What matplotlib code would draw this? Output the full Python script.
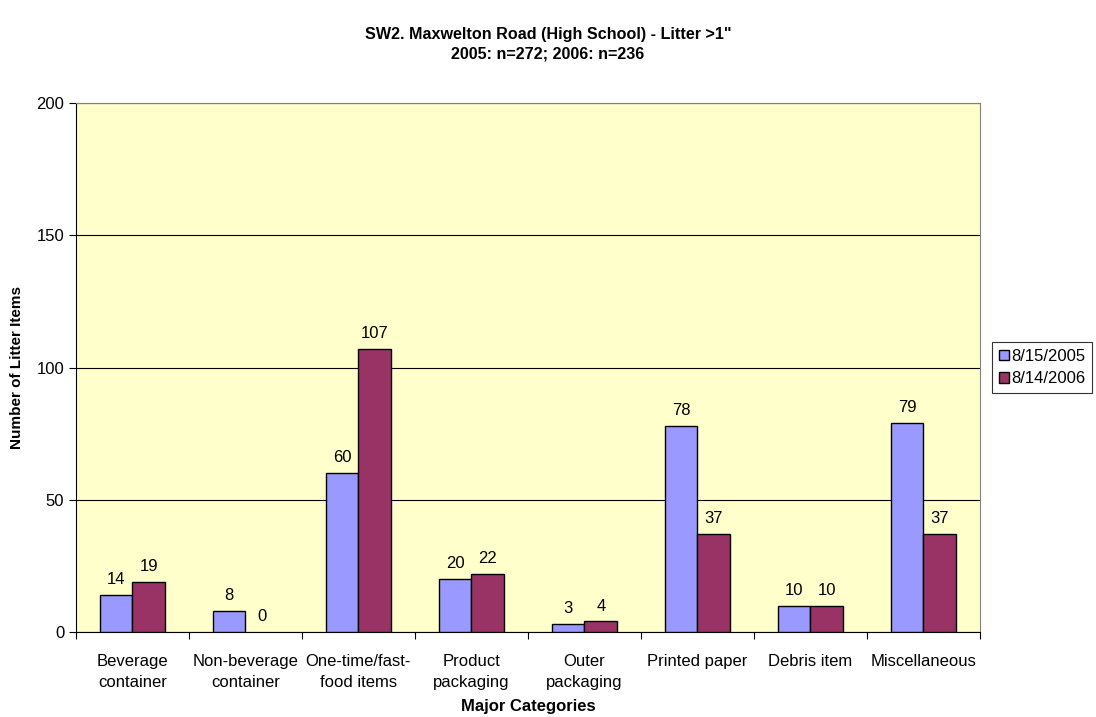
import numpy as np
import matplotlib.pyplot as plt

plt.rcParams['font.family'] = ['Liberation Sans', 'DejaVu Sans']

categories = ['Beverage\ncontainer', 'Non-beverage\ncontainer', 'One-time/fast-\nfood items',
              'Product\npackaging', 'Outer\npackaging', 'Printed paper', 'Debris item',
              'Miscellaneous']
series_names = ['8/15/2005', '8/14/2006']
vals_2005 = [14, 8, 60, 20, 3, 78, 10, 79]
vals_2006 = [19, 0, 107, 22, 4, 37, 10, 37]

fig = plt.figure(figsize=(10.96, 7.17), dpi=100)
ax = fig.add_axes([0.0693, 0.1185, 0.8247, 0.7378])
ax.set_facecolor('#FFFFCC')

x = np.arange(len(categories))
w = 0.29
b1 = ax.bar(x - w / 2, vals_2005, w, color='#9999FF', edgecolor='black', linewidth=1, label=series_names[0], zorder=3)
b2 = ax.bar(x + w / 2, vals_2006, w, color='#993366', edgecolor='black', linewidth=1, label=series_names[1], zorder=3)

for bars in (b1, b2):
    for r in bars:
        h = r.get_height()
        if h == 0:
            r.set_edgecolor('none')
        ax.text(r.get_x() + r.get_width() / 2, h + 3, '%d' % h, ha='center', va='bottom', fontsize=12)

ax.set_ylim(0, 200)
ax.set_xlim(-0.5, len(categories) - 0.5)
ax.set_yticks([0, 50, 100, 150, 200])
ax.yaxis.grid(True, color='black', linewidth=0.8, zorder=0)
ax.set_xticks(np.arange(len(categories) + 1) - 0.5)
ax.set_xticklabels([])
ax.set_xticks(x, minor=True)
ax.set_xticklabels(categories, minor=True, fontsize=12)
for t in ax.get_xticklabels(minor=True):
    t.set_linespacing(1.45)
ax.tick_params(axis='x', which='minor', length=0, pad=16)
ax.tick_params(axis='x', which='major', length=5, direction='out')
ax.tick_params(axis='y', length=5, labelsize=12)

for s in ['top', 'right']:
    ax.spines[s].set_color('gray')
ax.spines['left'].set_color('black')
ax.spines['bottom'].set_color('black')

ax.set_ylabel('Number of Litter Items', fontsize=11, fontweight='bold', labelpad=9)
ax.set_xlabel('Major Categories', fontsize=12, fontweight='bold', labelpad=7)
fig.suptitle('SW2. Maxwelton Road (High School) - Litter >1"\n2005: n=272; 2006: n=236',
             fontsize=11.6, fontweight='bold', y=0.963, linespacing=1.45)

leg = ax.legend(loc='center left', bbox_to_anchor=(1.014, 0.5), fontsize=12, frameon=True,
                fancybox=False, edgecolor='black', handlelength=0.6, handleheight=0.6,
                handletextpad=0.15, borderpad=0.4, labelspacing=0.45, borderaxespad=0)
leg.get_frame().set_linewidth(0.8)

fig.savefig('out.png', dpi=100)
